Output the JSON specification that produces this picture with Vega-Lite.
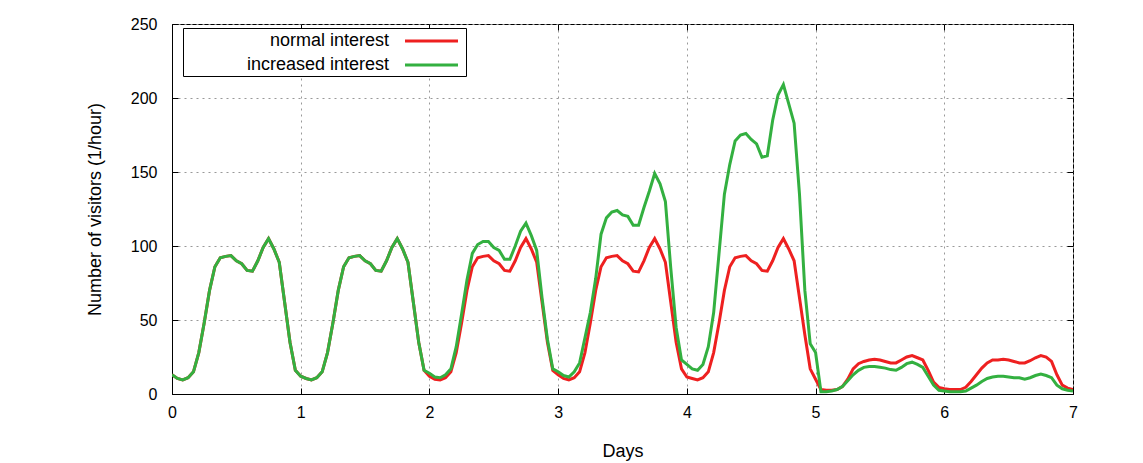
{
"$schema": "https://vega.github.io/schema/vega-lite/v6.json",
"width": 901, "height": 370,
"autosize": {"type": "none"},
"padding": {"left": 172, "top": 24, "right": 70, "bottom": 69},
"background": "white",
"config": {
  "font": "Liberation Sans",
  "view": {"stroke": "black", "strokeWidth": 1},
  "axis": {"labelFont": "Liberation Sans", "labelFontSize": 16, "labelColor": "black", "titleFont": "Liberation Sans", "titleFontSize": 18, "titleFontWeight": "normal", "titleColor": "black", "domainColor": "black", "tickColor": "black", "tickSize": -6, "gridColor": "#999999", "gridDash": [2, 4], "gridOpacity": 1, "gridWidth": 1}
},
"data": {"values": [
{"d":0,"n":13,"i":13},{"d":0.0417,"n":10.5,"i":10.5},{"d":0.0833,"n":9.5,"i":9.5},{"d":0.125,"n":11,"i":11},{"d":0.1667,"n":15,"i":15},{"d":0.2083,"n":28,"i":28},{"d":0.25,"n":48,"i":48},{"d":0.2917,"n":70,"i":70},{"d":0.3333,"n":86,"i":86},{"d":0.375,"n":92,"i":92},{"d":0.4167,"n":93,"i":93},{"d":0.4583,"n":93.5,"i":93.5},{"d":0.5,"n":90,"i":90},{"d":0.5417,"n":88,"i":88},{"d":0.5833,"n":83.5,"i":83.5},{"d":0.625,"n":83,"i":83},{"d":0.6667,"n":90,"i":90},{"d":0.7083,"n":99,"i":99},{"d":0.75,"n":105,"i":105},{"d":0.7917,"n":98,"i":98},{"d":0.8333,"n":89,"i":89},{"d":0.875,"n":62,"i":62},{"d":0.9167,"n":35,"i":35},{"d":0.9583,"n":16,"i":16},
{"d":1,"n":12,"i":12},{"d":1.0417,"n":10.5,"i":10.5},{"d":1.0833,"n":9.5,"i":9.5},{"d":1.125,"n":11,"i":11},{"d":1.1667,"n":15,"i":15},{"d":1.2083,"n":28,"i":28},{"d":1.25,"n":48,"i":48},{"d":1.2917,"n":70,"i":70},{"d":1.3333,"n":86,"i":86},{"d":1.375,"n":92,"i":92},{"d":1.4167,"n":93,"i":93},{"d":1.4583,"n":93.5,"i":93.5},{"d":1.5,"n":90,"i":90},{"d":1.5417,"n":88,"i":88},{"d":1.5833,"n":83.5,"i":83.5},{"d":1.625,"n":83,"i":83},{"d":1.6667,"n":90,"i":90},{"d":1.7083,"n":99,"i":99},{"d":1.75,"n":105,"i":105},{"d":1.7917,"n":98,"i":98},{"d":1.8333,"n":89,"i":89},{"d":1.875,"n":62,"i":62},{"d":1.9167,"n":35,"i":35},{"d":1.9583,"n":16,"i":16},
{"d":2,"n":12,"i":14},{"d":2.0417,"n":10,"i":11.5},{"d":2.0833,"n":9.5,"i":11},{"d":2.125,"n":11,"i":13},{"d":2.1667,"n":15,"i":17},{"d":2.2083,"n":28,"i":32},{"d":2.25,"n":48,"i":54},{"d":2.2917,"n":70,"i":77},{"d":2.3333,"n":86,"i":95},{"d":2.375,"n":92,"i":101},{"d":2.4167,"n":93,"i":103},{"d":2.4583,"n":93.5,"i":103},{"d":2.5,"n":90,"i":99},{"d":2.5417,"n":88,"i":97},{"d":2.5833,"n":83.5,"i":91},{"d":2.625,"n":83,"i":91},{"d":2.6667,"n":90,"i":100},{"d":2.7083,"n":99,"i":110},{"d":2.75,"n":105,"i":115.5},{"d":2.7917,"n":98,"i":107},{"d":2.8333,"n":89,"i":97},{"d":2.875,"n":62,"i":65},{"d":2.9167,"n":35,"i":37},{"d":2.9583,"n":16,"i":17},
{"d":3,"n":13,"i":15},{"d":3.0417,"n":10.5,"i":12.5},{"d":3.0833,"n":9.5,"i":11.5},{"d":3.125,"n":11,"i":15},{"d":3.1667,"n":15,"i":21},{"d":3.2083,"n":28,"i":38},{"d":3.25,"n":48,"i":55},{"d":3.2917,"n":70,"i":78},{"d":3.3333,"n":86,"i":108},{"d":3.375,"n":92,"i":119},{"d":3.4167,"n":93,"i":123},{"d":3.4583,"n":93.5,"i":124},{"d":3.5,"n":90,"i":121},{"d":3.5417,"n":88,"i":120},{"d":3.5833,"n":83,"i":114},{"d":3.625,"n":82.5,"i":114},{"d":3.6667,"n":90,"i":126},{"d":3.7083,"n":99,"i":137},{"d":3.75,"n":105,"i":149},{"d":3.7917,"n":98,"i":142},{"d":3.8333,"n":89,"i":130},{"d":3.875,"n":62,"i":85},{"d":3.9167,"n":35,"i":45},{"d":3.9583,"n":17,"i":23},
{"d":4,"n":11.5,"i":20},{"d":4.0417,"n":10.5,"i":17},{"d":4.0833,"n":9.5,"i":16},{"d":4.125,"n":11,"i":20},{"d":4.1667,"n":15,"i":32},{"d":4.2083,"n":28,"i":55},{"d":4.25,"n":48,"i":95},{"d":4.2917,"n":70,"i":135},{"d":4.3333,"n":86,"i":155},{"d":4.375,"n":92,"i":171},{"d":4.4167,"n":93,"i":175},{"d":4.4583,"n":93.5,"i":176},{"d":4.5,"n":90,"i":172},{"d":4.5417,"n":88,"i":169},{"d":4.5833,"n":83.5,"i":160},{"d":4.625,"n":83,"i":161},{"d":4.6667,"n":90,"i":185},{"d":4.7083,"n":99,"i":202},{"d":4.75,"n":105,"i":209},{"d":4.7917,"n":98,"i":196},{"d":4.8333,"n":90,"i":183},{"d":4.875,"n":65,"i":135},{"d":4.9167,"n":40,"i":70},{"d":4.9583,"n":17,"i":34},
{"d":5,"n":10,"i":28},{"d":5.0417,"n":3,"i":1.5},{"d":5.0833,"n":2.5,"i":1.5},{"d":5.125,"n":2.5,"i":2},{"d":5.1667,"n":3,"i":3},{"d":5.2083,"n":5,"i":5},{"d":5.25,"n":10,"i":9},{"d":5.2917,"n":17,"i":13},{"d":5.3333,"n":20.5,"i":16},{"d":5.375,"n":22,"i":18},{"d":5.4167,"n":23,"i":18.5},{"d":5.4583,"n":23.5,"i":18.5},{"d":5.5,"n":23,"i":18},{"d":5.5417,"n":22,"i":17.5},{"d":5.5833,"n":21,"i":16.5},{"d":5.625,"n":21,"i":16},{"d":5.6667,"n":23,"i":18},{"d":5.7083,"n":25,"i":20.5},{"d":5.75,"n":26,"i":21.5},{"d":5.7917,"n":24.5,"i":20},{"d":5.8333,"n":23,"i":18},{"d":5.875,"n":16,"i":12},{"d":5.9167,"n":8,"i":6},{"d":5.9583,"n":4.5,"i":2.5},
{"d":6,"n":3.5,"i":2},{"d":6.0417,"n":3,"i":1.5},{"d":6.0833,"n":3,"i":1.5},{"d":6.125,"n":3,"i":1.5},{"d":6.1667,"n":4.5,"i":2},{"d":6.2083,"n":8.5,"i":4},{"d":6.25,"n":13,"i":6},{"d":6.2917,"n":17.5,"i":8.5},{"d":6.3333,"n":21,"i":10.5},{"d":6.375,"n":23,"i":11.5},{"d":6.4167,"n":23,"i":12},{"d":6.4583,"n":23.5,"i":12},{"d":6.5,"n":23,"i":11.5},{"d":6.5417,"n":22,"i":11},{"d":6.5833,"n":21,"i":11},{"d":6.625,"n":21,"i":10},{"d":6.6667,"n":22.5,"i":11},{"d":6.7083,"n":24.5,"i":12.5},{"d":6.75,"n":26,"i":13.5},{"d":6.7917,"n":25,"i":12.5},{"d":6.8333,"n":22,"i":11},{"d":6.875,"n":13,"i":6},{"d":6.9167,"n":6,"i":3.5},{"d":6.9583,"n":4,"i":2.5},
{"d":7,"n":3,"i":2}
]},
"transform": [{"fold": ["n", "i"], "as": ["series", "v"]}],
"encoding": {
  "x": {"field": "d", "type": "quantitative", "scale": {"domain": [0, 7], "nice": false, "zero": false},
        "axis": {"values": [0,1,2,3,4,5,6,7], "title": "Days", "labelPadding": 16, "titlePadding": 22, "labelFlush": false}},
  "y": {"field": "v", "type": "quantitative", "scale": {"domain": [0, 250], "nice": false},
        "axis": {"values": [0,50,100,150,200,250], "title": "Number of visitors (1/hour)", "labelPadding": 21, "titlePadding": 26}},
  "color": {"field": "series", "type": "nominal",
            "scale": {"domain": ["n", "i"], "range": ["#ee2020", "#33b040"]},
            "legend": {"title": null,
                       "orient": "none", "legendX": 11, "legendY": 4, "strokeColor": "black", "fillColor": "white", "padding": 1.5,
                       "labelAlign": "right", "labelOffset": -54, "labelFontSize": 18, "labelFont": "Liberation Sans", "labelColor": "black", "labelLimit": 300,
                       "symbolType": "M-2.65,0H2.65", "symbolSize": 400, "symbolOffset": 235.5, "symbolStrokeWidth": 3, "rowPadding": 3,
                       "labelExpr": "datum.value == 'n' ? 'normal interest' : 'increased interest'"}}
},
"layer": [
  {"transform": [{"filter": "datum.series == 'n'"}], "mark": {"type": "line", "strokeWidth": 3, "clip": true}},
  {"transform": [{"filter": "datum.series == 'i'"}], "mark": {"type": "line", "strokeWidth": 3, "clip": true},
   "encoding": {
     "x": {"field": "d", "type": "quantitative", "axis": {"orient": "top", "values": [0,1,2,3,4,5,6,7], "labels": false, "title": null, "grid": false, "domain": false}},
     "y": {"field": "v", "type": "quantitative", "axis": {"orient": "right", "values": [0,50,100,150,200,250], "labels": false, "title": null, "grid": false, "domain": false}}
   }}
],
"resolve": {"axis": {"x": "independent", "y": "independent"}}
}
